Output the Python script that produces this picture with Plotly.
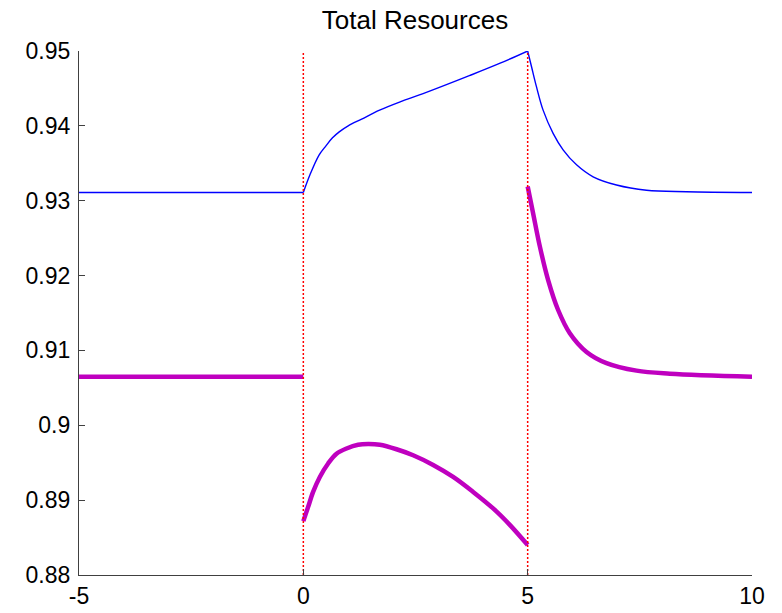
import plotly.graph_objects as go

# ---- data ----
blue_pre_x = [-5, 0]
blue_pre_y = [0.9311, 0.9311]
blue_mid_x = [0, 0.15, 0.35, 0.5, 0.65, 0.8, 1.0, 1.3, 1.7, 2.2, 2.8, 3.7, 4.4, 5.0]
blue_mid_y = [0.9311, 0.9335, 0.9361, 0.9373, 0.9384, 0.9392, 0.9400, 0.9409, 0.9421, 0.9433,
              0.9446, 0.9467, 0.9484, 0.9500]
blue_post_x = [5.0, 5.086, 5.197, 5.344, 5.567, 5.79, 6.089, 6.459, 6.98, 7.649, 8.54, 10]
blue_post_y = [0.9500, 0.9479, 0.9452, 0.9421, 0.9390, 0.9368, 0.9348, 0.9332, 0.9321, 0.9314, 0.9312, 0.9311]

mag_pre_x = [-5, 0]
mag_pre_y = [0.9065, 0.9065]
mag_mid_x = [0, 0.107, 0.218, 0.368, 0.553, 0.74, 0.963, 1.221, 1.444, 1.705, 2.077,
             2.447, 2.893, 3.339, 3.784, 4.23, 4.602, 5.0]
mag_mid_y = [0.8872, 0.8891, 0.8911, 0.8931, 0.8949, 0.8962, 0.8969, 0.8974, 0.8975, 0.8974, 0.8968,
             0.8960, 0.8947, 0.8931, 0.8911, 0.8889, 0.8867, 0.8840]
mag_post_x = [5.0, 5.122, 5.271, 5.456, 5.679, 5.939, 6.312, 6.757, 7.426, 8.168, 10]
mag_post_y = [0.9319, 0.9283, 0.9239, 0.9194, 0.9154, 0.9123, 0.9098, 0.9083, 0.9073, 0.9069, 0.9065]

event_x = [0, 5]
y_range = [0.88, 0.95]
x_range = [-5, 10]

x_tickvals = [-5, 0, 5, 10]
x_ticktext = ["-5", "0", "5", "10"]
y_tickvals = [0.88, 0.89, 0.90, 0.91, 0.92, 0.93, 0.94, 0.95]
y_ticktext = ["0.88", "0.89", "0.9", "0.91", "0.92", "0.93", "0.94", "0.95"]

title = "Total Resources"

BLUE = "#0000ff"
MAG = "#bf00bf"

fig = go.Figure()

for xs, ys in [(blue_pre_x, blue_pre_y), (blue_mid_x, blue_mid_y), (blue_post_x, blue_post_y)]:
    fig.add_trace(go.Scatter(x=xs, y=ys, mode="lines",
                             line=dict(color=BLUE, width=1.4, shape="spline", smoothing=1.0),
                             hoverinfo="skip"))
for xs, ys in [(mag_pre_x, mag_pre_y), (mag_mid_x, mag_mid_y), (mag_post_x, mag_post_y)]:
    fig.add_trace(go.Scatter(x=xs, y=ys, mode="lines",
                             line=dict(color=MAG, width=4.5, shape="spline", smoothing=1.0),
                             hoverinfo="skip"))
for ex in event_x:
    fig.add_trace(go.Scatter(x=[ex, ex], y=y_range, mode="lines",
                             line=dict(color="#ff0000", width=1.5, dash="2px,2px"),
                             hoverinfo="skip"))

axis_common = dict(showline=True, linecolor="#404040", linewidth=1.2, mirror=False,
                   ticks="inside", ticklen=6, tickcolor="#404040", tickwidth=1,
                   showgrid=False, zeroline=False, automargin=False,
                   tickfont=dict(family="Liberation Sans, Arial, sans-serif", size=23, color="#000000"))

# the page adds an 8px body margin, so the figure is 8px smaller and offsets are reduced by 8
fig.update_layout(
    width=774, height=605,
    margin=dict(l=71, r=30, t=43, b=38, autoexpand=False),
    paper_bgcolor="white", plot_bgcolor="white",
    showlegend=False,
    title=dict(text=title, x=407 / 774, xanchor="center", y=1.0, yanchor="top",
               pad=dict(t=3, b=0, l=0, r=0),
               font=dict(family="Liberation Sans, Arial, sans-serif", size=26, color="#000000")),
    xaxis=dict(range=x_range, tickvals=x_tickvals, ticktext=x_ticktext, **axis_common),
    yaxis=dict(range=y_range, tickvals=y_tickvals, ticktext=y_ticktext, ticklabelstandoff=3, **axis_common),
)

fig.write_html("out.html")
